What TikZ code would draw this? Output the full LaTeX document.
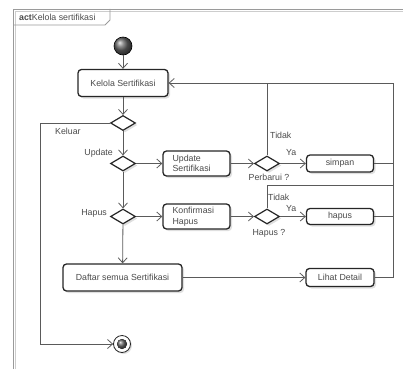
\documentclass[tikz,border=0pt]{standalone}
\usepackage{fontspec}
\setmainfont{Liberation Sans}
\usetikzlibrary{arrows.meta,shapes.geometric,shadows}

\definecolor{linec}{HTML}{5A5A5A}
\definecolor{boxc}{HTML}{262626}
\definecolor{txtc}{HTML}{4A4A4A}
\definecolor{framec}{HTML}{9A9A9A}

\begin{document}
\begin{tikzpicture}[x=1pt,y=-1pt,
  font=\fontsize{8.8}{10.5}\selectfont, text=txtc,
  act/.style={draw=boxc, line width=1.3pt, rounded corners=3.5pt, fill=white,
    drop shadow={shadow xshift=2pt, shadow yshift=-2pt, opacity=0.25},
    inner sep=0pt},
  multi/.style={text width=48pt, align=left, inner xsep=9.5pt,
    minimum width=67pt, minimum height=25pt},
  dec/.style={diamond, draw=boxc, line width=1.2pt, fill=white,
    minimum width=25pt, minimum height=15pt, inner sep=0pt,
    drop shadow={shadow xshift=2pt, shadow yshift=-2pt, opacity=0.25}},
  flow/.style={draw=linec, line width=0.8pt, -{Straight Barb[length=5pt,width=9pt]}},
  lnk/.style={draw=linec, line width=0.8pt},
  lbl/.style={inner sep=0pt, text=txtc}
]
\useasboundingbox (0,0) rectangle (403,369);

% diagram frame with its name tab
\draw[framec!50, line width=0.8pt] (15,369) -- (15,11) -- (403,11);
\draw[framec, line width=0.8pt] (13,369) -- (13,9) -- (403,9);
\draw[framec, line width=0.8pt] (13,25) -- (105,25) -- (110,20) -- (110,9);
\node[lbl, anchor=west] (title) at (19,17) {\textbf{act}Kelola sertifikasi};

% activities and decisions
\node[circle, minimum size=18pt, inner sep=0pt, draw=black, line width=0.6pt,
  ball color=gray!80!black] (init) at (123,46) {};
\node[act, minimum width=90pt, minimum height=27pt] (kelola) at (123,83) {Kelola Sertifikasi};
\node[dec] (d1) at (123,123) {};
\node[dec] (d2) at (123,163.5) {};
\node[dec] (d3) at (123,216.5) {};
\node[act, multi] (upd) at (196.5,163.5) {Update\\Sertifikasi};
\node[dec] (p1) at (267,163.5) {};
\node[act, minimum width=67pt, minimum height=17pt] (simpan) at (340,163.5) {simpan};
\node[act, multi] (konf) at (196.5,216.5) {Konfirmasi\\Hapus};
\node[dec] (p2) at (267,216.5) {};
\node[act, minimum width=67pt, minimum height=16pt] (hapus) at (340,216.5) {hapus};
\node[act, minimum width=119pt, minimum height=27pt] (daftar) at (122.5,277.5) {Daftar semua Sertifikasi};
\node[act, minimum width=68pt, minimum height=18pt] (lihat) at (340,277.5) {Lihat Detail};
\node[circle, minimum size=17pt, inner sep=0pt, draw=boxc, line width=0.8pt, fill=white,
  drop shadow={shadow xshift=1.5pt, shadow yshift=-1.5pt, opacity=0.25}] (final) at (122,344) {};
\fill[ball color=gray!80!black] (final.center) circle (5pt);

% junction points of the return paths
\coordinate (rt) at (393,83);
\coordinate (tj) at (393,185);
\coordinate (kl) at (40,344);

% control flows
\draw[flow] (init) -- (kelola);
\draw[flow] (kelola) -- (d1);
\draw[flow] (d1) -- (d2);
\draw[flow] (d2) -- (d3);
\draw[flow] (d3) -- (daftar);
\draw[flow] (d2) -- (upd);
\draw[flow] (upd) -- (p1);
\draw[flow] (p1) -- (simpan);
\draw[flow] (d3) -- (konf);
\draw[flow] (konf) -- (p2);
\draw[flow] (p2) -- (hapus);
\draw[flow] (daftar) -- (lihat);
\draw[flow] (lihat.east) -| (rt) -- (kelola.east);
\draw[lnk] (simpan.east) -- (simpan.east -| rt);
\draw[lnk] (hapus.east) -- (hapus.east -| rt);
\draw[lnk] (p1.north) -- (p1.north |- rt);
\draw[lnk] (p2.north) |- (tj);
\draw[flow] (d1.west) -| (kl) -- (final.west);

% guard labels
\node[lbl, anchor=west] (lkeluar) at (55,131) {Keluar};
\node[lbl, anchor=east] (lupdate) at (113,153) {Update};
\node[lbl, anchor=east] (lhapus) at (107,213) {Hapus};
\node[lbl, anchor=west] (ltidak1) at (270,135) {Tidak};
\node[lbl, anchor=west] (lya1) at (286,153) {Ya};
\node[lbl] (lperbarui) at (269,177) {Perbarui ?};
\node[lbl, anchor=west] (ltidak2) at (268,197) {Tidak};
\node[lbl, anchor=west] (lya2) at (286,209) {Ya};
\node[lbl] (lhapusq) at (269,233) {Hapus ?};
\end{tikzpicture}
\end{document}
